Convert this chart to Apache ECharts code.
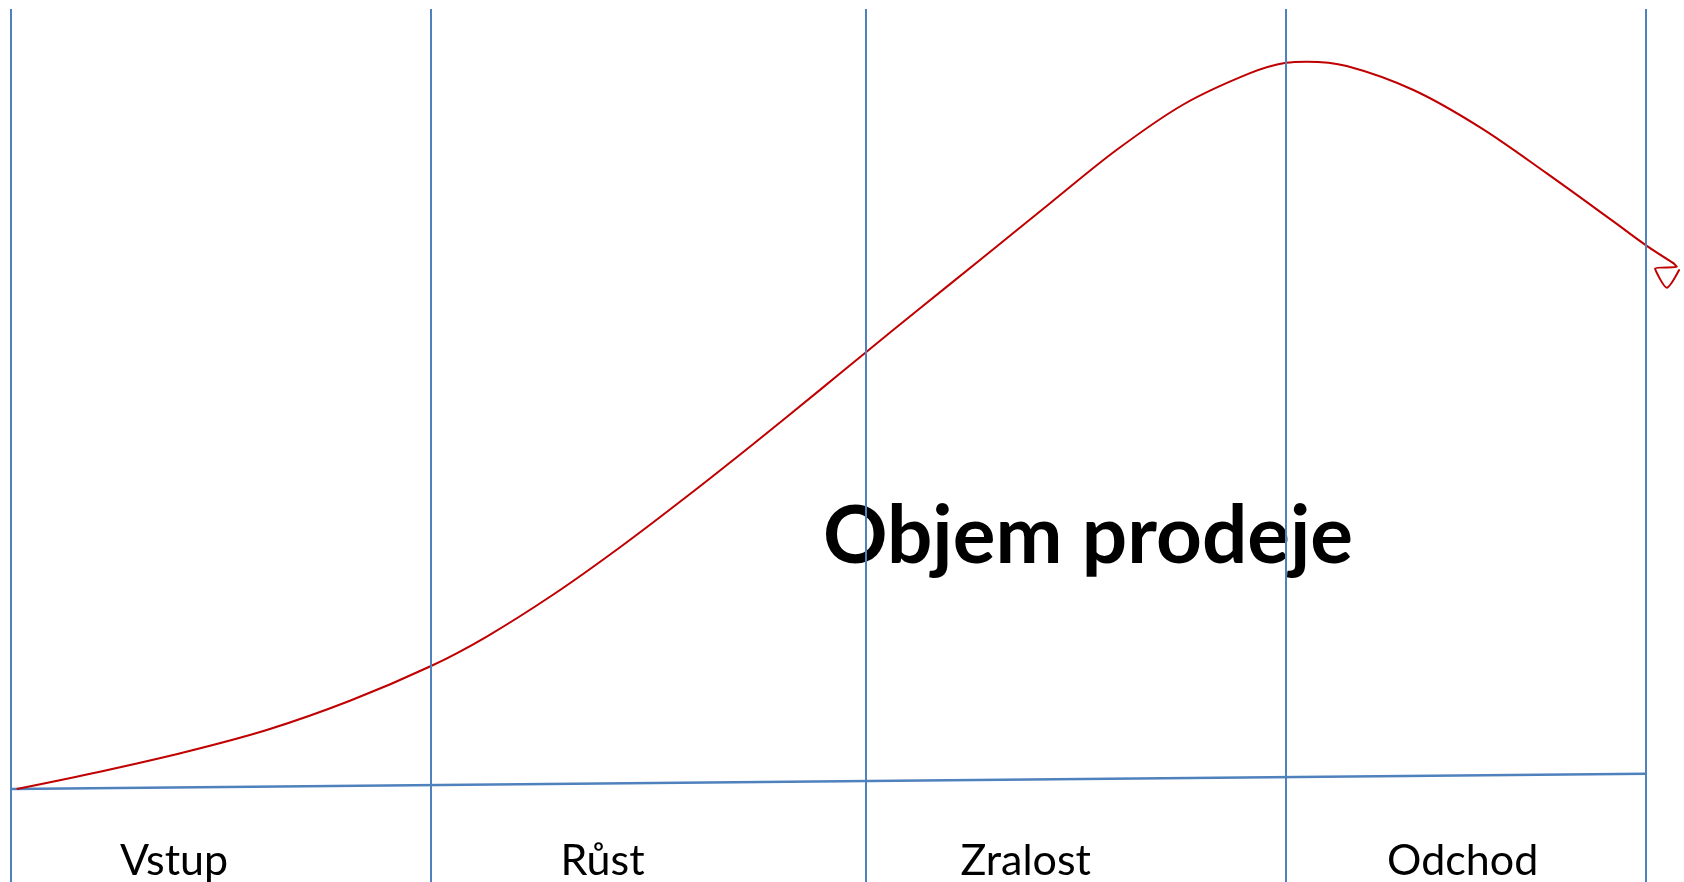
<!DOCTYPE html>
<html>
<head>
<meta charset="utf-8">
<script src="https://cdn.jsdelivr.net/npm/echarts@6/dist/echarts.min.js"></script>
<style>
html,body{margin:0;padding:0;background:#fff;}
#c{width:1684px;height:882px;}
</style>
</head>
<body>
<div id="c"></div>
<script>
// Time (0..100 = end of the last phase) and sales volume values
const salesX = [0.35, 5.44, 10.54, 15.64, 20.73, 25.69, 29.10, 33.17, 37.25, 41.33, 45.40, 49.48, 52.29, 55.39, 59.47, 63.55, 67.63, 71.70, 75.78, 77.98, 79.25, 81.69, 85.77, 89.85, 93.93, 98.00, 100.00, 101.67];
const salesY = [0.65, 2.63, 4.83, 7.41, 10.76, 14.74, 18.12, 22.93, 28.35, 34.16, 40.18, 46.37, 50.69, 55.40, 61.57, 67.75, 73.87, 79.06, 82.65, 83.84, 83.97, 83.47, 80.72, 76.44, 71.17, 65.67, 62.93, 60.90];
// hand-drawn arrow head at the end of the curve
const arrowX = [101.67, 101.88, 100.55, 101.27, 102.02];
const arrowY = [60.90, 60.47, 60.29, 58.08, 60.10];
// slightly rising base line
const baseX = [0, 100];
const baseY = [0.65, 2.41];
// phase boundaries and labels
const boundaries = [0, 25.69, 52.29, 77.94, 100];
const phaseNames = ['Vstup', 'Růst', 'Zralost', 'Odchod'];
const phaseLabelX = [9.97, 36.18, 62.06, 88.78];
const phaseLabelY = -7.6;
const titleText = 'Objem prodeje';
const titlePos = [65.87, 29.5];

const zip = (a, b) => a.map((v, i) => [v, b[i]]);
const blue = '#4F81BD';
const red = '#C00000';

const chart = echarts.init(document.getElementById('c'), null, {renderer: 'canvas'});
chart.setOption({
  animation: false,
  backgroundColor: '#ffffff',
  grid: {left: 11, right: 0, top: 9, bottom: 0},
  xAxis: {type: 'value', min: 0, max: 102.32, show: false},
  yAxis: {type: 'value', min: -10, max: 90, show: false},
  series: [
    {
      name: 'base', type: 'line', data: zip(baseX, baseY), symbol: 'none',
      lineStyle: {color: blue, width: 2.5}, clip: false,
      markLine: {
        silent: true, symbol: 'none', label: {show: false},
        lineStyle: {color: blue, width: 2, type: 'solid'},
        data: boundaries.map(v => ({xAxis: v}))
      }
    },
    {
      name: titleText, type: 'line', data: zip(salesX, salesY), symbol: 'none',
      smooth: 0.33, clip: false,
      lineStyle: {color: red, width: 2}
    },
    {
      name: 'arrow', type: 'line', data: zip(arrowX, arrowY), symbol: 'none',
      smooth: 0.25, clip: false,
      lineStyle: {color: red, width: 2, join: 'round', cap: 'round'}
    },
    {
      name: 'phases', type: 'scatter', symbolSize: 0, clip: false,
      itemStyle: {opacity: 1},
      data: phaseNames.map((n, i) => ({name: n, value: [phaseLabelX[i], phaseLabelY]})),
      label: {show: true, position: 'inside', formatter: p => p.name, opacity: 1,
        fontFamily: 'Lato', fontSize: 43, color: '#000000'}
    },
    {
      name: 'title', type: 'scatter', symbolSize: 0, clip: false,
      itemStyle: {opacity: 1},
      data: [{name: titleText, value: titlePos}],
      label: {show: true, position: 'inside', formatter: p => p.name, opacity: 1,
        fontFamily: 'Lato', fontWeight: 'bold', fontSize: 80, color: '#000000'}
    }
  ]
});
</script>
</body>
</html>
